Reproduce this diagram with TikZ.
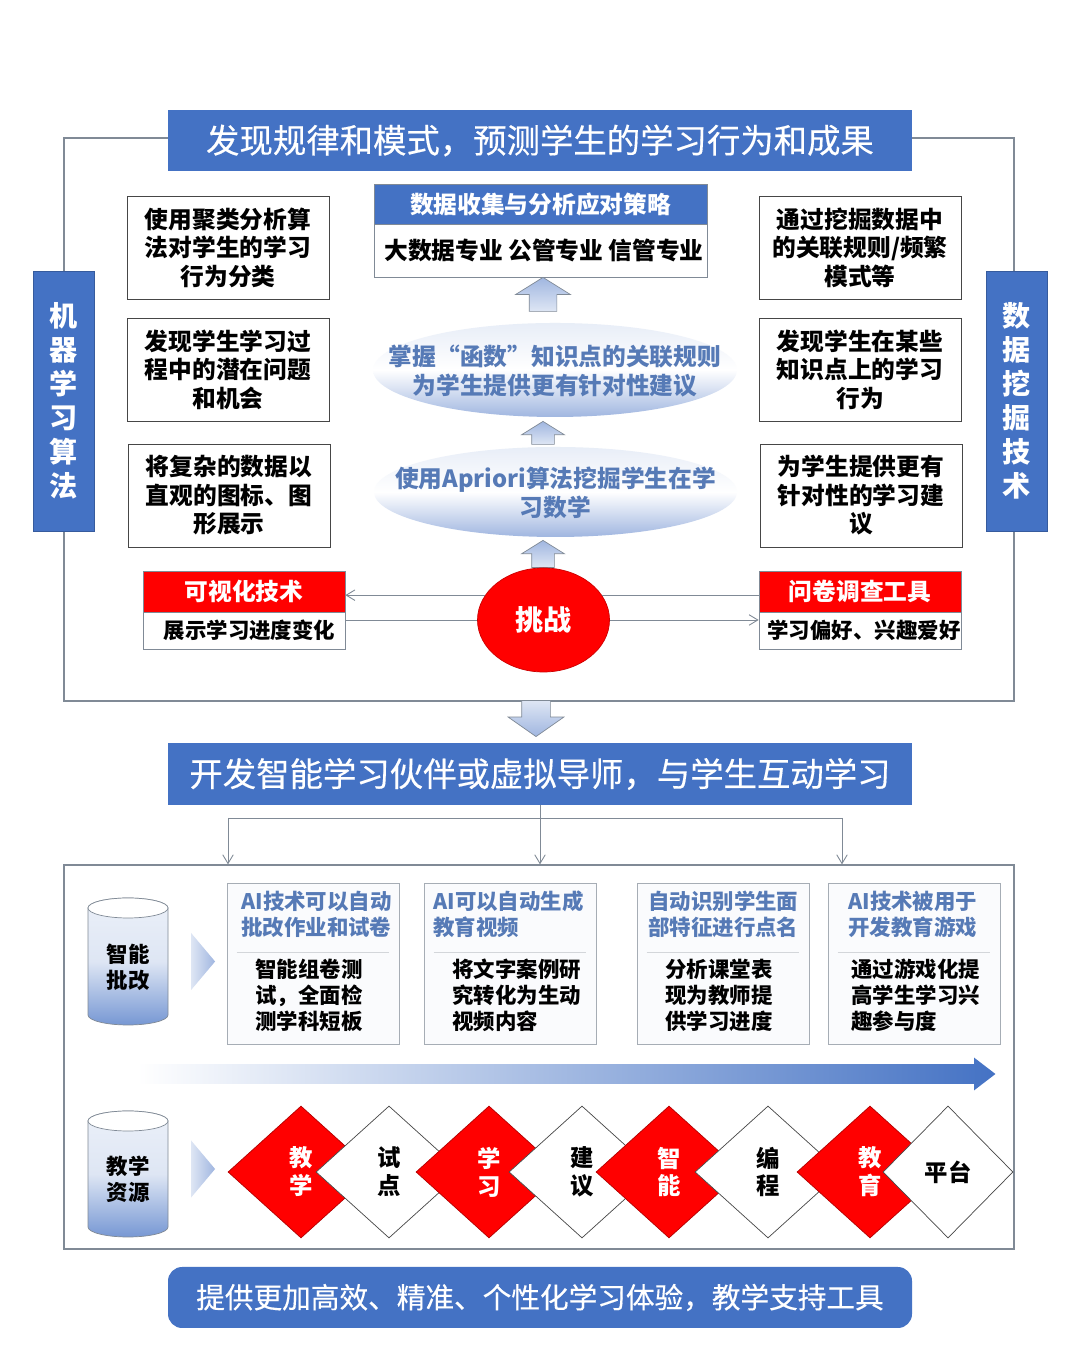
\documentclass[tikz,border=0pt]{standalone}
\usepackage{fontspec}
\setmainfont{Noto Sans CJK SC}
\newfontfamily\barfont[FakeBold=0.35]{Noto Sans CJK SC}
\definecolor{edublue}{RGB}{68,114,196}
\definecolor{edutext}{RGB}{86,122,182}
\definecolor{edured}{RGB}{255,0,0}
\definecolor{edugray}{RGB}{128,138,150}
\definecolor{eduline}{RGB}{70,70,70}
\definecolor{edumist}{RGB}{160,182,224}
\definecolor{edupale}{RGB}{222,230,244}
\usetikzlibrary{arrows.meta,positioning,shapes.geometric,shapes.arrows,calc}

\begin{document}
\begin{tikzpicture}[
  bluebar/.style={fill=edublue,minimum width=14.88cm,minimum height=1.22cm,align=center,
    text=white,font=\barfont\fontsize{19}{23}\selectfont,inner sep=0pt},
  sidebar/.style={fill=edublue,draw=edublue!80!black,minimum width=1.22cm,minimum height=5.2cm,
    align=center,text=white,font=\fontsize{16}{19.4}\selectfont\bfseries,inner sep=0pt},
  tipbox/.style={draw=eduline,fill=white,minimum width=4.04cm,minimum height=2.06cm,
    align=center,font=\fontsize{13.5}{16.2}\selectfont\bfseries,inner sep=0pt},
  redhead/.style={fill=edured,draw=edugray,minimum width=4.04cm,minimum height=.82cm,
    text=white,font=\fontsize{13.5}{16}\selectfont\bfseries,inner sep=0pt},
  redbody/.style={fill=white,draw=edugray,minimum width=4.04cm,minimum height=.74cm,
    font=\fontsize{12.2}{15}\selectfont\bfseries,inner sep=0pt},
  bubble/.style={ellipse,top color=edupale!70,bottom color=edumist,middle color=white,
    inner sep=0pt},
  bubbletext/.style={align=center,text=edutext,font=\fontsize{13.5}{16}\selectfont\bfseries},
  liftarrow/.style={single arrow,shape border rotate=90,anchor=tip,draw=edugray,
    top color=edumist,bottom color=edupale,inner xsep=.27cm,inner ysep=0pt,single arrow head extend=.27cm,
    single arrow tip angle=116,single arrow head indent=0pt,minimum height=.68cm,minimum width=1.08cm},
  framebox/.style={draw=edugray,line width=.7pt,minimum width=19cm},
  link/.style={draw=edugray,line width=.5pt},
  linkarrow/.style={link,-{Straight Barb[length=5pt,width=6pt]}},
  drum/.style={draw=edugray,top color=edupale!60,bottom color=edumist!55!edublue,middle color=edupale},
  drumlid/.style={draw=edugray,fill=white},
  drumtext/.style={align=center,font=\fontsize{12.2}{14.8}\selectfont\bfseries},
  pointer/.style={isosceles triangle,isosceles triangle stretches,anchor=apex,left color=edupale,
    right color=edumist,minimum height=.48cm,minimum width=1.14cm,inner sep=0pt},
  card/.style={draw=edugray!70,fill=edupale!15,minimum width=3.44cm,minimum height=3.22cm,inner sep=0pt},
  cardhead/.style={anchor=west,align=left,text=edutext,font=\fontsize{12.2}{14.8}\selectfont\bfseries,inner sep=0pt},
  cardtext/.style={anchor=west,align=left,font=\fontsize{12.2}{14.8}\selectfont\bfseries,inner sep=0pt},
  cardrule/.style={draw=edugray!35,line width=.5pt},
  reddia/.style={diamond,fill=edured,draw=edured!70!black,text=white,minimum width=2.92cm,minimum height=2.64cm,
    align=center,font=\fontsize{13.3}{15.9}\selectfont\bfseries,inner sep=0pt},
  whitedia/.style={diamond,draw=eduline,fill=white,minimum width=2.92cm,minimum height=2.64cm,
    align=center,font=\fontsize{13.3}{15.9}\selectfont\bfseries,inner sep=0pt}
]
  \useasboundingbox (0,0) rectangle (21.6,27);
  \fill[white] (0,0) rectangle (21.6,27);

  % Upper frame and its banner
  \node[framebox,minimum height=11.26cm] (upframe) at (10.78,18.61) {};
  \node[bluebar] (uptitle) at (10.8,24.19) {发现规律和模式，预测学生的学习行为和成果};
  \node[sidebar] (leftbar) at (1.27,18.98) {机\\器\\学\\习\\算\\法};
  \node[sidebar] (rightbar) at (20.33,18.98) {数\\据\\挖\\掘\\技\\术};

  % Left column
  \node[tipbox] (left1) at (4.56,22.05) {使用聚类分析算\\法对学生的学习\\行为分类};
  \node[tipbox] (left2) at (4.56,19.61) {发现学生学习过\\程中的潜在问题\\和机会};
  \node[tipbox] (left3) at (4.58,17.09) {将复杂的数据以\\直观的图标、图\\形展示};

  % Right column
  \node[tipbox] (right1) at (17.2,22.05) {通过挖掘数据中\\的关联规则/频繁\\模式等};
  \node[tipbox] (right2) at (17.2,19.61) {发现学生在某些\\知识点上的学习\\行为};
  \node[tipbox] (right3) at (17.22,17.09) {为学生提供更有\\针对性的学习建\\议};

  % Center column
  \node[fill=edublue,draw=edugray,minimum width=6.66cm,minimum height=.8cm,text=white,inner sep=0pt,
    font=\fontsize{13.5}{16}\selectfont\bfseries] (strategy) at (10.81,22.92) {数据收集与分析应对策略};
  \node[fill=white,draw=edugray,minimum width=6.66cm,minimum height=1.06cm,inner sep=0pt,
    font=\fontsize{13.5}{16}\selectfont\bfseries] (majors) at (10.81,21.99) {\hspace{.14cm}\raisebox{-.1cm}{大数据专业 公管专业 信管专业}};
  \node[liftarrow] (lift1) at (10.86,21.46) {};
  \node[bubble,minimum width=7.28cm,minimum height=1.88cm] (rules) at (11.1,19.6) {};
  \node[bubbletext] (rulestext) at (11.1,19.58) {掌握“函数”知识点的关联规则\\为学生提供更有针对性建议};
  \node[liftarrow,minimum height=.46cm,minimum width=.84cm,inner xsep=.22cm,single arrow head extend=.2cm] (lift2) at (10.86,18.58) {};
  \node[bubble,minimum width=7.26cm,minimum height=1.8cm] (apriori) at (11.11,17.16) {};
  \node[bubbletext] (aprioritext) at (11.11,17.14) {使用Apriori算法挖掘学生在学\\习数学};
  \node[liftarrow,minimum height=.54cm,minimum width=.84cm,inner xsep=.22cm,single arrow head extend=.2cm] (lift3) at (10.86,16.2) {};
  \node[ellipse,fill=edured,draw=edured!80!black,minimum width=2.64cm,minimum height=2.08cm,text=white,
    inner sep=0pt,font=\fontsize{16}{19}\selectfont\bfseries] (challenge) at (10.87,14.6) {挑战};

  % Red boxes beside the circle
  \node[redhead] (vishead) at (4.88,15.17) {可视化技术};
  \node[redbody] (visbody) at (4.88,14.39) {\hspace{.22cm}展示学习进度变化};
  \node[redhead] (askhead) at (17.2,15.17) {问卷调查工具};
  \node[redbody] (askbody) at (17.2,14.39) {\hspace{.16cm}学习偏好、兴趣爱好};
  \draw[linkarrow] (challenge.157.7) -- (challenge.157.7 -| vishead.east);
  \draw[link] (challenge.west) -- (challenge.west -| visbody.east);
  \draw[link] (challenge.23) -- (challenge.23 -| askhead.west);
  \draw[linkarrow] (challenge.east) -- (challenge.east -| askbody.west);

  % Between the two frames
  \node[single arrow,shape border rotate=270,anchor=tip,draw=edugray,top color=edupale,bottom color=edumist,
    inner xsep=.28cm,inner ysep=0pt,single arrow head extend=.27cm,single arrow tip angle=110,single arrow head indent=0pt,
    minimum height=.72cm,minimum width=1.1cm] (drop) at (10.72,12.26) {};
  \node[bluebar,minimum height=1.24cm] (midtitle) at (10.8,11.52) {开发智能学习伙伴或虚拟导师，与学生互动学习};
  \node[framebox,minimum height=7.68cm] (lowframe) at (10.78,5.86) {};
  \coordinate (branchl) at (4.56,10.64);
  \coordinate (branchr) at (16.84,10.64);
  \draw[link] (branchl) -- (branchr);
  \draw[linkarrow] (midtitle.south) -- (midtitle.south |- lowframe.north);
  \draw[linkarrow] (branchl) -- (branchl |- lowframe.north);
  \draw[linkarrow] (branchr) -- (branchr |- lowframe.north);

  % Grading row
  \draw[drum] (1.76,8.84) -- (1.76,6.7) arc[start angle=180,end angle=360,x radius=.8,y radius=.2]
    -- (3.36,8.84) arc[start angle=0,end angle=180,x radius=.8,y radius=.2] -- cycle;
  \draw[drumlid] (2.56,8.84) ellipse (.8 and .2);
  \node[drumtext] (drumtext1) at (2.56,7.66) {智能\\批改};
  \node[pointer] (point1) at (4.32,7.77) {};

  \node[card] (card1) at (6.26,7.73) {};
  \node[cardhead] (head1) at (4.82,8.72) {AI技术可以自动\\批改作业和试卷};
  \draw[cardrule] ([xshift=.2cm]card1.west |- 0,7.96) -- ([xshift=-.2cm]card1.east |- 0,7.96);
  \node[cardtext] (text1) at (5.1,7.1) {智能组卷测\\试，全面检\\测学科短板};

  \node[card] (card2) at (10.2,7.73) {};
  \node[cardhead] (head2) at (8.66,8.72) {AI可以自动生成\\教育视频};
  \draw[cardrule] ([xshift=.2cm]card2.west |- 0,7.96) -- ([xshift=-.2cm]card2.east |- 0,7.96);
  \node[cardtext] (text2) at (9.04,7.1) {将文字案例研\\究转化为生动\\视频内容};

  \node[card] (card3) at (14.46,7.73) {};
  \node[cardhead] (head3) at (12.96,8.72) {自动识别学生面\\部特征进行点名};
  \draw[cardrule] ([xshift=.2cm]card3.west |- 0,7.96) -- ([xshift=-.2cm]card3.east |- 0,7.96);
  \node[cardtext] (text3) at (13.3,7.1) {分析课堂表\\现为教师提\\供学习进度};

  \node[card] (card4) at (18.28,7.73) {};
  \node[cardhead] (head4) at (16.96,8.72) {AI技术被用于\\开发教育游戏};
  \draw[cardrule] ([xshift=.2cm]card4.west |- 0,7.96) -- ([xshift=-.2cm]card4.east |- 0,7.96);
  \node[cardtext] (text4) at (17.02,7.1) {通过游戏化提\\高学生学习兴\\趣参与度};

  % Long arrow
  \node[single arrow,anchor=tip,left color=white,right color=edublue,inner sep=.19cm,
    single arrow head extend=.13cm,single arrow tip angle=75,single arrow head indent=0pt,
    minimum height=17.16cm,minimum width=.64cm] (sweep) at (19.92,5.52) {};

  % Resources row
  \draw[drum] (1.76,4.58) -- (1.76,2.46) arc[start angle=180,end angle=360,x radius=.8,y radius=.2]
    -- (3.36,4.58) arc[start angle=0,end angle=180,x radius=.8,y radius=.2] -- cycle;
  \draw[drumlid] (2.56,4.58) ellipse (.8 and .2);
  \node[drumtext] (drumtext2) at (2.56,3.42) {教学\\资源};
  \node[pointer] (point2) at (4.32,3.62) {};
  \node[reddia] (dia1) at (6.02,3.56) {教\\学};
  \node[whitedia] (dia2) at (7.78,3.56) {试\\点};
  \node[reddia] (dia3) at (9.78,3.56) {学\\习};
  \node[whitedia] (dia4) at (11.64,3.56) {建\\议};
  \node[reddia] (dia5) at (13.38,3.56) {智\\能};
  \node[whitedia] (dia6) at (15.36,3.56) {编\\程};
  \node[reddia] (dia7) at (17.4,3.56) {教\\育};
  \node[whitedia,minimum width=2.6cm] (dia8) at (18.96,3.56) {平台};

  % Closing banner
  \node[bluebar,rounded corners=8pt,font=\barfont\fontsize{16.3}{20}\selectfont] (endbar) at (10.8,1.05) {提供更加高效、精准、个性化学习体验，教学支持工具};
\end{tikzpicture}
\end{document}
